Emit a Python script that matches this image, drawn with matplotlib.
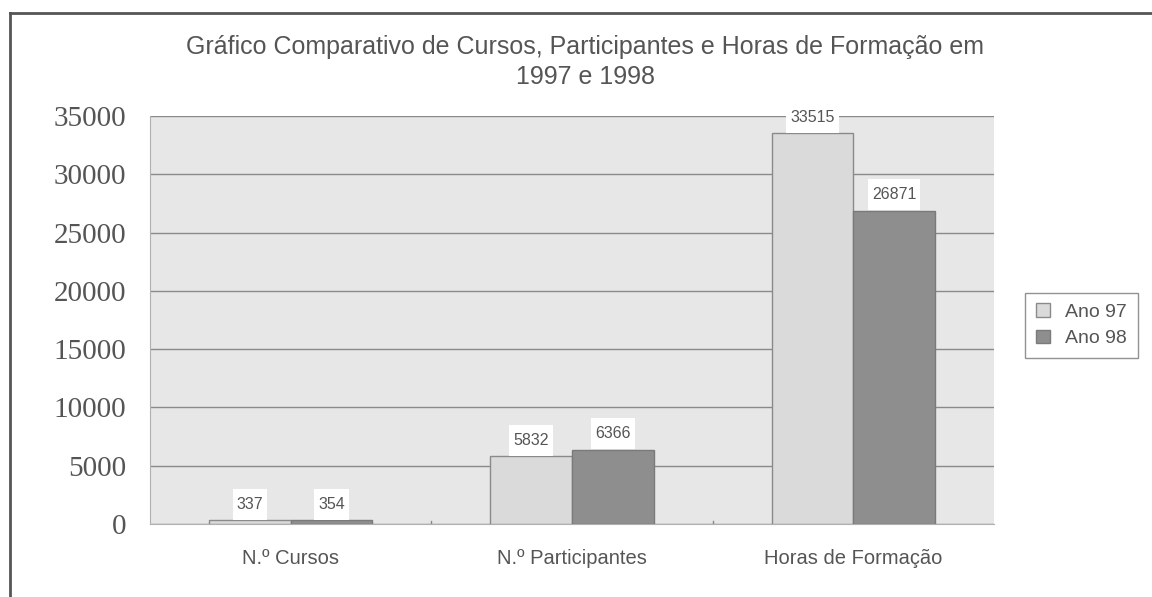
import matplotlib.pyplot as plt
import numpy as np
from matplotlib.lines import Line2D
from matplotlib.path import Path

categorias = ["N.º Cursos", "N.º Participantes", "Horas de Formação"]
ano_97 = [337, 5832, 33515]
ano_98 = [354, 6366, 26871]
series_labels = ["Ano 97", "Ano 98"]
y_ticks = [0, 5000, 10000, 15000, 20000, 25000, 30000, 35000]


def label_box(x0, y0, width, height, mutation_size):
    # white box, wider vertical padding than horizontal
    px = 0.25 * mutation_size
    py = 0.5 * mutation_size
    x1, y1 = x0 - px, y0 - py
    x2, y2 = x0 + width + px, y0 + height + py
    return Path([(x1, y1), (x2, y1), (x2, y2), (x1, y2), (x1, y1)], closed=True)


fig = plt.figure(figsize=(11.52, 5.97), dpi=100)
ax = fig.add_axes([0.1302, 0.1223, 0.7326, 0.6834])
ax.set_facecolor("#e7e7e7")

x = np.arange(len(categorias))
w = 0.29
b1 = ax.bar(x - w / 2, ano_97, w, color="#dadada", edgecolor="#8a8a8a", linewidth=1, label=series_labels[0], zorder=3)
b2 = ax.bar(x + w / 2, ano_98, w, color="#8e8e8e", edgecolor="#7a7a7a", linewidth=1, label=series_labels[1], zorder=3)

for bars in (b1, b2):
    for rect in bars:
        h = rect.get_height()
        ax.annotate(f"{int(h)}", (rect.get_x() + rect.get_width() / 2, h),
                    xytext=(0, 6), textcoords="offset points", ha="center", va="bottom",
                    fontsize=11.5, color="#555555", family="Liberation Sans",
                    bbox=dict(boxstyle=label_box, fc="white", ec="none"), zorder=4,
                    annotation_clip=False)

ax.set_xlim(-0.5, len(categorias) - 0.5)
ax.set_ylim(0, 35000)
ax.set_yticks(y_ticks)
ax.set_yticklabels([str(v) for v in y_ticks], family="Liberation Serif", fontsize=21, color="#555555")
ax.yaxis.grid(True, color="#8a8a8a", linewidth=1, zorder=1)
ax.set_axisbelow(True)
ax.tick_params(axis="y", length=0, pad=17)

ax.set_xticks(x)
ax.set_xticklabels(categorias, family="Liberation Sans", fontsize=14.5, color="#555555")
ax.tick_params(axis="x", length=0, pad=18)
# small separators between categories
for sep in [0.5, 1.5]:
    ax.plot([sep, sep], [0, 250], color="#8a8a8a", lw=1, zorder=2)

for s in ax.spines.values():
    s.set_visible(False)
ax.spines["left"].set_visible(True)
ax.spines["left"].set_color("#b0b0b0")
ax.spines["bottom"].set_visible(True)
ax.spines["bottom"].set_color("#b0b0b0")

fig.text(0.508, 0.896, "Gráfico Comparativo de Cursos, Participantes e Horas de Formação em\n1997 e 1998",
         ha="center", va="center", fontsize=18, color="#555555", family="Liberation Sans", linespacing=1.32)

leg = fig.legend(handles=[b1, b2], labels=series_labels, loc="center", bbox_to_anchor=(0.9388, 0.4548),
                 frameon=True, fancybox=False, fontsize=14, handlelength=0.7, handleheight=0.7,
                 handletextpad=0.8, labelspacing=0.45, borderpad=0.55, borderaxespad=0)
leg.get_frame().set_edgecolor("#777777")
leg.get_frame().set_linewidth(1)
for t in leg.get_texts():
    t.set_color("#555555")
    t.set_family("Liberation Sans")

# outer frame (left and top edges)
fig.add_artist(Line2D([10 / 1152, 10 / 1152], [0, 1 - 13 / 597], color="#555555", lw=2))
fig.add_artist(Line2D([10 / 1152, 1], [1 - 13 / 597, 1 - 13 / 597], color="#555555", lw=2))

fig.savefig("out.png", dpi=100)
